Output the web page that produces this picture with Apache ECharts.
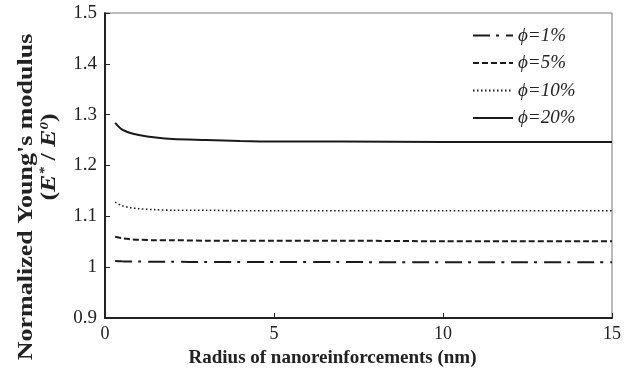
<!DOCTYPE html>
<html><head><meta charset="utf-8">
<script src="https://cdn.jsdelivr.net/npm/echarts@6/dist/echarts.min.js"></script>
<style>html,body{margin:0;padding:0;background:#fff}#c{width:635px;height:380px}</style>
</head><body><div id="c"></div>
<script>
const radius = [0.3, 0.5, 0.75, 1, 1.5, 2, 3, 4, 5, 7, 10, 12, 15];
const phi1  = [1.012, 1.0115, 1.011, 1.011, 1.0105, 1.0105, 1.010, 1.010, 1.010, 1.010, 1.0095, 1.0095, 1.0095];
const phi5  = [1.060, 1.057, 1.055, 1.054, 1.053, 1.053, 1.052, 1.052, 1.052, 1.052, 1.051, 1.051, 1.051];
const phi10 = [1.128, 1.121, 1.117, 1.115, 1.113, 1.112, 1.112, 1.111, 1.111, 1.111, 1.111, 1.111, 1.111];
const phi20 = [1.284, 1.271, 1.264, 1.260, 1.255, 1.252, 1.250, 1.248, 1.247, 1.247, 1.246, 1.246, 1.246];
const seriesNames = ['ϕ=1%', 'ϕ=5%', 'ϕ=10%', 'ϕ=20%'];
const seriesData = [phi1, phi5, phi10, phi20];
const dashTypes = [[17, 6, 3, 7], [6, 3], [1.5, 2.5], 'solid'];
const yTitle1 = "Normalized Young's modulus";

const chart = echarts.init(document.getElementById('c'), null, {renderer: 'canvas'});
const font = '"Liberation Serif", "Times New Roman", serif';
chart.setOption({
  animation: false,
  backgroundColor: '#fff',
  grid: {left: 105, right: 23, top: 13, bottom: 62, show: true, borderColor: '#777', borderWidth: 1},
  legend: {
    orient: 'vertical', left: 467, top: 21, itemWidth: 40, itemHeight: 14, itemGap: 8.5,
    itemStyle: {opacity: 0},
    textStyle: {fontFamily: font, fontStyle: 'italic', fontSize: 19, color: '#222'},
    data: seriesNames
  },
  graphic: [
    {type: 'text', x: 27, y: 197, rotation: Math.PI / 2, scaleY: 0.8,
      style: {text: yTitle1, font: 'bold 26px ' + font, fill: '#222', align: 'center', verticalAlign: 'middle'}},
    {type: 'text', x: 50, y: 157, rotation: Math.PI / 2, scaleY: 0.8,
      style: {text: '{b|(}{i|E}{s|*}{b| / }{i|E}{s|0}{b|)}', align: 'center', verticalAlign: 'middle',
        font: 'bold 26px ' + font, fill: '#222',
        rich: {
          b: {font: 'bold 26px ' + font, fill: '#222', lineHeight: 26},
          i: {font: 'italic bold 26px ' + font, fill: '#222', lineHeight: 26},
          s: {font: 'italic bold 15px ' + font, fill: '#222', padding: [0, 0, 13, 0], lineHeight: 26}
        }}}
  ],
  xAxis: {
    type: 'value', min: 0, max: 15, interval: 5,
    axisLine: {show: true, onZero: false, lineStyle: {color: '#222', width: 2}},
    axisTick: {show: true, inside: true, length: 5, lineStyle: {color: '#222', width: 1}},
    splitLine: {show: false},
    axisLabel: {fontFamily: font, fontSize: 18, color: '#222', margin: 7},
    name: 'Radius of nanoreinforcements (nm)', nameLocation: 'middle', nameGap: 31,
    nameTextStyle: {fontFamily: font, fontSize: 19, fontWeight: 'bold', color: '#222', padding: [0, 52, 0, 0]}
  },
  yAxis: {
    type: 'value', min: 0.9, max: 1.5, interval: 0.1,
    axisLine: {show: true, onZero: false, lineStyle: {color: '#222', width: 2}},
    axisTick: {show: true, inside: true, length: 5, lineStyle: {color: '#222', width: 1}},
    splitLine: {show: false},
    axisLabel: {fontFamily: font, fontSize: 19, color: '#222', margin: 8,
      formatter: v => (Math.round(v * 10) / 10).toString()}
  },
  series: seriesNames.map((n, i) => ({
    name: n, type: 'line', smooth: 0.3, showSymbol: false, symbol: 'none',
    data: radius.map((r, k) => [r, seriesData[i][k]]),
    lineStyle: {color: '#1a1a1a', width: i === 2 ? 1.6 : 2, type: dashTypes[i]},
    itemStyle: {color: '#1a1a1a'}
  }))
});
</script></body></html>
